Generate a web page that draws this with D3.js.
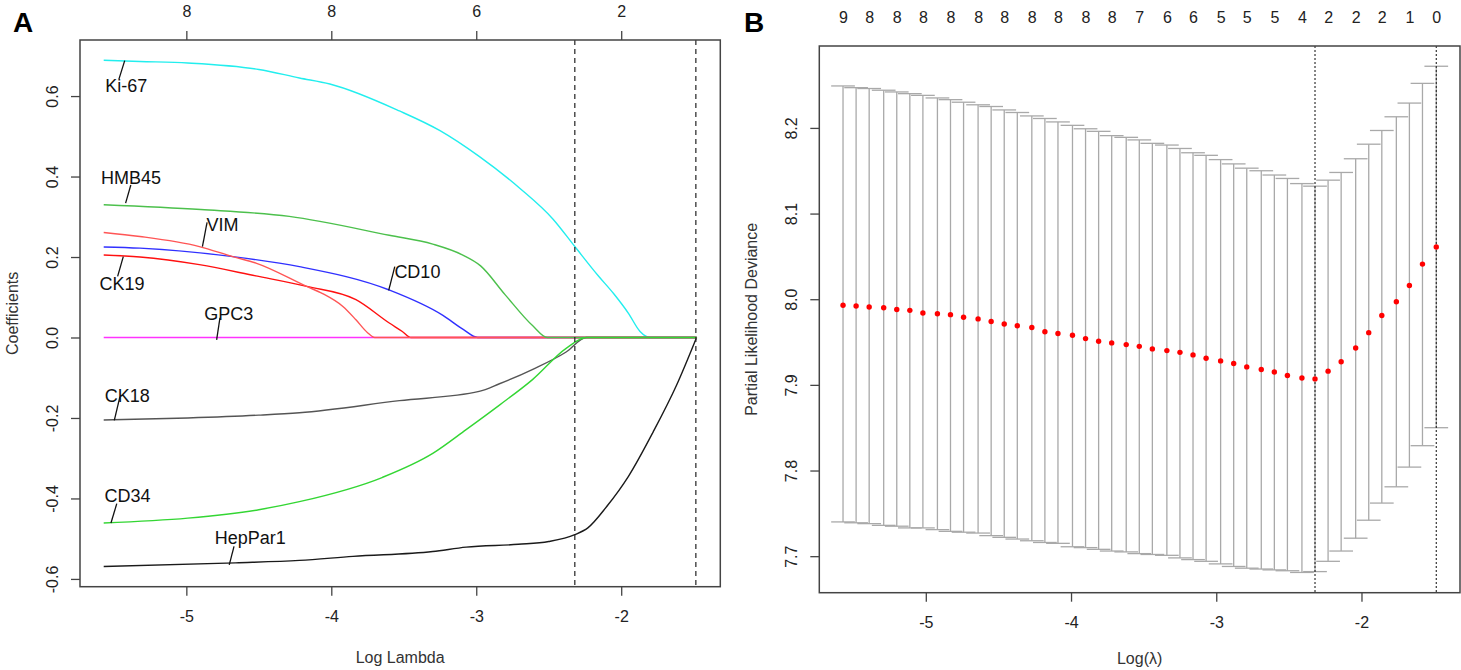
<!DOCTYPE html>
<html>
<head>
<meta charset="utf-8">
<script src="https://cdn.jsdelivr.net/npm/d3@7"></script>
<style>
  body { margin: 0; background: #fff; }
  text { font-family: "Liberation Sans", Arial, sans-serif; }
</style>
</head>
<body>
<svg id="fig" width="1461" height="670"></svg>
<script>
const font = '"Liberation Sans", Arial, sans-serif'
const frameColor = '#444'
const textColor = '#222'

// ---- panel A : coefficient paths, [log lambda, coefficient]
const hepPar1 = [[-5.57,-0.569],[-4.66,-0.560],[-4.22,-0.554],[-3.85,-0.544],[-3.30,-0.532],[-3.07,-0.521],[-2.71,-0.514],[-2.50,-0.507],[-2.32,-0.490],[-2.23,-0.473],[-2.10,-0.420],[-1.95,-0.345],[-1.78,-0.235],[-1.62,-0.120],[-1.48,0]]
const ck18 = [[-5.57,-0.205],[-4.99,-0.200],[-4.50,-0.193],[-4.22,-0.187],[-3.53,-0.157],[-2.98,-0.134],[-2.84,-0.115],[-2.61,-0.079],[-2.38,-0.036],[-2.24,0],[-1.48,0]]
const ki67 = [[-5.57,0.689],[-5.32,0.686],[-4.99,0.682],[-4.50,0.666],[-4.22,0.645],[-4.01,0.630],[-3.53,0.563],[-3.25,0.514],[-2.98,0.450],[-2.70,0.371],[-2.47,0.294],[-2.32,0.226],[-2.16,0.154],[-2.05,0.108],[-1.95,0.060],[-1.87,0.015],[-1.80,0],[-1.48,0]]
const cd10 = [[-5.57,0.225],[-5.32,0.222],[-4.68,0.201],[-4.22,0.176],[-3.60,0.118],[-3.23,0.055],[-3.09,0.020],[-2.99,0],[-1.48,0]]
const gpc3 = [[-5.57,0],[-1.48,0]]
const ck19 = [[-5.57,0.205],[-5.32,0.200],[-4.91,0.181],[-4.52,0.153],[-4.17,0.127],[-3.83,0.094],[-3.60,0.036],[-3.51,0.015],[-3.45,0],[-1.48,0]]
const vim = [[-5.57,0.261],[-5.32,0.251],[-4.91,0.226],[-4.68,0.201],[-4.52,0.185],[-4.17,0.127],[-4.06,0.109],[-3.92,0.077],[-3.83,0.044],[-3.75,0.012],[-3.70,0],[-1.48,0]]
const hmb45 = [[-5.57,0.330],[-4.90,0.318],[-4.29,0.301],[-3.60,0.254],[-3.30,0.232],[-3.10,0.206],[-2.97,0.178],[-2.80,0.106],[-2.61,0.029],[-2.51,0],[-1.48,0]]
const cd34 = [[-5.57,-0.461],[-4.99,-0.449],[-4.50,-0.428],[-4.22,-0.408],[-3.65,-0.348],[-3.30,-0.288],[-3.07,-0.229],[-2.84,-0.168],[-2.61,-0.104],[-2.38,-0.027],[-2.24,0],[-1.48,0]]

// drawing order (later ones on top)
const pathNames = ['HepPar1', 'CK18', 'Ki-67', 'CD10', 'GPC3', 'CK19', 'VIM', 'HMB45', 'CD34']
const pathData = [hepPar1, ck18, ki67, cd10, gpc3, ck19, vim, hmb45, cd34]
const pathColors = ['#1a1a1a', '#555555', '#22EEEE', '#3030FF', '#FF33FF', '#FF1010', '#FF5555', '#4CC04C', '#33D633']

// label text centre and leader line, in data units
const labelNames = ['Ki-67', 'HMB45', 'VIM', 'CK19', 'CD10', 'GPC3', 'CK18', 'CD34', 'HepPar1']
const labelText = [[-5.414,0.625],[-5.381,0.398],[-4.751,0.281],[-5.443,0.135],[-3.406,0.165],[-4.707,0.060],[-5.407,-0.144],[-5.405,-0.392],[-4.559,-0.496]]
const labelLine = [
  [[-5.425,0.688],[-5.465,0.642]],
  [[-5.383,0.379],[-5.419,0.334]],
  [[-4.857,0.286],[-4.889,0.226]],
  [[-5.435,0.201],[-5.474,0.152]],
  [[-3.562,0.176],[-3.604,0.117]],
  [[-4.768,0.049],[-4.791,-0.006]],
  [[-5.458,-0.147],[-5.497,-0.206]],
  [[-5.480,-0.413],[-5.520,-0.461]],
  [[-4.671,-0.519],[-4.704,-0.565]]
]

const dfTicks = [-5, -4, -3, -2]
const dfLabels = [8, 8, 6, 2]
const coefTicks = [-0.6, -0.4, -0.2, 0, 0.2, 0.4, 0.6]

// ---- panel B : cross-validation curve
const logLambda = [-5.57,-5.48,-5.39,-5.29,-5.20,-5.11,-5.02,-4.92,-4.83,-4.74,-4.64,-4.55,-4.46,-4.37,-4.27,-4.18,-4.09,-3.99,-3.90,-3.81,-3.72,-3.62,-3.53,-3.44,-3.34,-3.25,-3.16,-3.07,-2.97,-2.88,-2.79,-2.69,-2.60,-2.51,-2.41,-2.32,-2.23,-2.14,-2.04,-1.95,-1.86,-1.76,-1.67,-1.58,-1.485]
const cvm = [7.993,7.992,7.991,7.990,7.988,7.987,7.984,7.983,7.982,7.979,7.977,7.974,7.971,7.969,7.967,7.962,7.960,7.958,7.954,7.951,7.949,7.947,7.945,7.942,7.940,7.938,7.935,7.931,7.928,7.925,7.921,7.918,7.915,7.911,7.908,7.907,7.916,7.927,7.943,7.961,7.981,7.997,8.016,8.041,8.061]
const cvup = [8.249,8.247,8.246,8.244,8.242,8.240,8.238,8.235,8.233,8.230,8.227,8.225,8.221,8.218,8.214,8.211,8.207,8.203,8.199,8.196,8.191,8.189,8.186,8.182,8.180,8.176,8.171,8.168,8.163,8.158,8.153,8.150,8.145,8.141,8.135,8.132,8.139,8.148,8.164,8.181,8.197,8.213,8.229,8.252,8.272]
const cvlo = [7.740,7.739,7.738,7.736,7.735,7.733,7.733,7.731,7.729,7.728,7.727,7.724,7.722,7.720,7.718,7.716,7.715,7.711,7.710,7.708,7.706,7.705,7.703,7.702,7.701,7.698,7.696,7.694,7.691,7.688,7.686,7.685,7.684,7.683,7.681,7.682,7.694,7.706,7.721,7.742,7.762,7.781,7.804,7.829,7.850]
const nzLabels = [9,8,8,8,8,8,8,8,8,8,8,7,6,6,5,5,5,4,2,2,2,1,0]   // every second lambda
const devTicks = [7.7, 7.8, 7.9, 8.0, 8.1, 8.2]
const xTicks = [-5, -4, -3, -2]

const lambdaMin = -2.32
const lambda1se = -1.485

// R style 4% axis extension
function pad(ext) {
  const r = ext[1] - ext[0]
  return [ext[0] - 0.04 * r, ext[1] + 0.04 * r]
}

const svg = d3.select('#fig')

function styleAxis(g) {
  g.select('.domain').remove()
  g.selectAll('line').attr('stroke', frameColor).attr('stroke-width', 1.3)
  g.selectAll('text').attr('fill', textColor).attr('font-size', 16).attr('font-family', font)
  g.attr('font-family', font).attr('font-size', 16)
}

function rotateY(g) {
  g.selectAll('text')
    .attr('x', 0)
    .attr('dy', '0.35em')
    .attr('text-anchor', 'middle')
    .attr('transform', 'translate(-28,0) rotate(-90)')
}

// ================= panel A =================
const boxA = { left: 80, right: 720.3, top: 40, bottom: 586.7 }
const allA = pathData.flat()

const xA = d3.scaleLinear()
  .domain(pad(d3.extent(allA, d => d[0])))
  .range([boxA.left, boxA.right])
const yA = d3.scaleLinear()
  .domain(pad(d3.extent(allA, d => d[1])))
  .range([boxA.bottom, boxA.top])

const gA = svg.append('g')

const lineA = d3.line()
  .x(d => xA(d[0]))
  .y(d => yA(d[1]))
  .curve(d3.curveMonotoneX)

gA.selectAll('path.coef')
  .data(pathData)
  .enter()
  .append('path')
  .attr('class', 'coef')
  .attr('d', lineA)
  .attr('fill', 'none')
  .attr('stroke', (d, i) => pathColors[i])
  .attr('stroke-width', 1.4)

gA.selectAll('line.vline')
  .data([lambdaMin, lambda1se])
  .enter()
  .append('line')
  .attr('x1', d => xA(d)).attr('x2', d => xA(d))
  .attr('y1', boxA.top).attr('y2', boxA.bottom)
  .attr('stroke', '#222')
  .attr('stroke-width', 1.2)
  .attr('stroke-dasharray', '5,4')

// gene labels with leader lines
gA.selectAll('line.leader')
  .data(labelLine)
  .enter()
  .append('line')
  .attr('x1', d => xA(d[0][0])).attr('y1', d => yA(d[0][1]))
  .attr('x2', d => xA(d[1][0])).attr('y2', d => yA(d[1][1]))
  .attr('stroke', '#111')
  .attr('stroke-width', 1.3)

gA.selectAll('text.gene')
  .data(labelNames)
  .enter()
  .append('text')
  .attr('x', (d, i) => xA(labelText[i][0]))
  .attr('y', (d, i) => yA(labelText[i][1]))
  .attr('dy', '0.36em')
  .attr('text-anchor', 'middle')
  .attr('font-size', 18)
  .attr('fill', '#111')
  .text(d => d)

gA.append('g')
  .attr('transform', `translate(0,${boxA.bottom})`)
  .call(d3.axisBottom(xA).tickValues(xTicks).tickSize(9).tickPadding(15).tickFormat(d => String(d)))
  .call(styleAxis)

gA.append('g')
  .attr('transform', `translate(0,${boxA.top})`)
  .call(d3.axisTop(xA).tickValues(dfTicks).tickSize(9).tickPadding(13.7).tickFormat((d, i) => dfLabels[i]))
  .call(styleAxis)

gA.append('g')
  .attr('transform', `translate(${boxA.left},0)`)
  .call(d3.axisLeft(yA).tickValues(coefTicks).tickSize(9).tickFormat(d => d.toFixed(1)))
  .call(styleAxis)
  .call(rotateY)

gA.append('rect')
  .attr('x', boxA.left).attr('y', boxA.top)
  .attr('width', boxA.right - boxA.left).attr('height', boxA.bottom - boxA.top)
  .attr('fill', 'none').attr('stroke', frameColor).attr('stroke-width', 1.5)

gA.append('text')
  .attr('x', (boxA.left + boxA.right) / 2).attr('y', 657)
  .attr('dy', '0.35em').attr('text-anchor', 'middle')
  .attr('font-size', 16).attr('fill', '#333')
  .text('Log Lambda')

gA.append('text')
  .attr('transform', `translate(12,${(boxA.top + boxA.bottom) / 2}) rotate(-90)`)
  .attr('dy', '0.35em').attr('text-anchor', 'middle')
  .attr('font-size', 16).attr('fill', '#333')
  .text('Coefficients')

gA.append('text')
  .attr('x', 13).attr('y', 32)
  .attr('font-size', 28).attr('font-weight', 'bold').attr('fill', '#000')
  .text('A')

// ================= panel B =================
const boxB = { left: 819.3, right: 1460, top: 46, bottom: 592.7 }

const xB = d3.scaleLinear()
  .domain(pad(d3.extent(logLambda)))
  .range([boxB.left, boxB.right])
const yB = d3.scaleLinear()
  .domain(pad([d3.min(cvlo), d3.max(cvup)]))
  .range([boxB.bottom, boxB.top])

const gB = svg.append('g')
const barw = 0.02 * (d3.max(logLambda) - d3.min(logLambda))
const barColor = '#A9A9A9'

const bars = gB.selectAll('g.bar')
  .data(logLambda)
  .enter()
  .append('g')

bars.append('line')
  .attr('x1', d => xB(d)).attr('x2', d => xB(d))
  .attr('y1', (d, i) => yB(cvlo[i])).attr('y2', (d, i) => yB(cvup[i]))
  .attr('stroke', barColor).attr('stroke-width', 1.3)

bars.append('line')
  .attr('x1', d => xB(d - barw)).attr('x2', d => xB(d + barw))
  .attr('y1', (d, i) => yB(cvup[i])).attr('y2', (d, i) => yB(cvup[i]))
  .attr('stroke', barColor).attr('stroke-width', 1.3)

bars.append('line')
  .attr('x1', d => xB(d - barw)).attr('x2', d => xB(d + barw))
  .attr('y1', (d, i) => yB(cvlo[i])).attr('y2', (d, i) => yB(cvlo[i]))
  .attr('stroke', barColor).attr('stroke-width', 1.3)

gB.selectAll('line.vline')
  .data([lambdaMin, lambda1se])
  .enter()
  .append('line')
  .attr('x1', d => xB(d)).attr('x2', d => xB(d))
  .attr('y1', boxB.top).attr('y2', boxB.bottom)
  .attr('stroke', '#222')
  .attr('stroke-width', 1.1)
  .attr('stroke-dasharray', '2,2')

gB.selectAll('circle')
  .data(logLambda)
  .enter()
  .append('circle')
  .attr('cx', d => xB(d))
  .attr('cy', (d, i) => yB(cvm[i]))
  .attr('r', 2.7)
  .attr('fill', '#FF0000')

gB.append('g')
  .attr('transform', `translate(0,${boxB.bottom})`)
  .call(d3.axisBottom(xB).tickValues(xTicks).tickSize(9).tickPadding(15).tickFormat(d => String(d)))
  .call(styleAxis)

gB.append('g')
  .attr('transform', `translate(0,${boxB.top})`)
  .call(d3.axisTop(xB).tickValues(logLambda.filter((d, i) => i % 2 === 0)).tickSize(0).tickPadding(22.7).tickFormat((d, i) => nzLabels[i]))
  .call(styleAxis)

gB.append('g')
  .attr('transform', `translate(${boxB.left},0)`)
  .call(d3.axisLeft(yB).tickValues(devTicks).tickSize(9).tickFormat(d => d.toFixed(1)))
  .call(styleAxis)
  .call(rotateY)

gB.append('rect')
  .attr('x', boxB.left).attr('y', boxB.top)
  .attr('width', boxB.right - boxB.left).attr('height', boxB.bottom - boxB.top)
  .attr('fill', 'none').attr('stroke', frameColor).attr('stroke-width', 1.5)

gB.append('text')
  .attr('x', (boxB.left + boxB.right) / 2).attr('y', 658)
  .attr('dy', '0.35em').attr('text-anchor', 'middle')
  .attr('font-size', 16).attr('fill', '#333')
  .text('Log(λ)')

gB.append('text')
  .attr('transform', `translate(751,${(boxB.top + boxB.bottom) / 2}) rotate(-90)`)
  .attr('dy', '0.35em').attr('text-anchor', 'middle')
  .attr('font-size', 16).attr('fill', '#333')
  .text('Partial Likelihood Deviance')

gB.append('text')
  .attr('x', 744).attr('y', 32)
  .attr('font-size', 28).attr('font-weight', 'bold').attr('fill', '#000')
  .text('B')
</script>
</body>
</html>
